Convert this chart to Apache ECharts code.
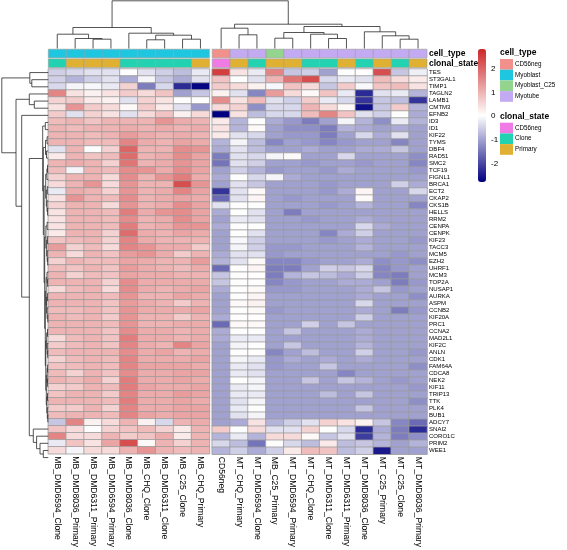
<!DOCTYPE html>
<html><head><meta charset="utf-8">
<script src="https://cdn.jsdelivr.net/npm/echarts@6/dist/echarts.min.js"></script>
<style>html,body{margin:0;padding:0;background:#fff}#c{width:567px;height:550px}</style>
</head><body><div id="c"></div>
<script>
// ---------------- DATA ----------------
const colNames = ['MB_DMD6594_Clone','MB_DMD8036_Primary','MB_DMD6311_Primary','MB_DMD6594_Primary','MB_DMD8036_Clone','MB_CHQ_Clone','MB_DMD6311_Clone','MB_C25_Clone','MB_CHQ_Primary',
  'CD56neg','MT_CHQ_Primary','MT_DMD6594_Clone','MB_C25_Primary','MT_DMD6594_Primary','MT_CHQ_Clone','MT_DMD6311_Clone','MT_DMD6311_Primary','MT_DMD8036_Clone','MT_C25_Primary','MT_C25_Clone','MT_DMD8036_Primary'];
const rowNames = ['TES','ST3GAL1','TIMP1','TAGLN2','LAMB1','CMTM3','EFNB2','ID3','ID1','KIF22','TYMS','DBF4','RAD51','SMC2','TCF19','FIGNL1','BRCA1','ECT2','CKAP2','CKS1B','HELLS','RRM2','CENPA','CENPK','KIF23','TACC3','MCM5','EZH2','UHRF1','MCM3','TOP2A','NUSAP1','AURKA','ASPM','CCNB2','KIF20A','PRC1','CCNA2','MAD2L1','KIF2C','ANLN','CDK1','FAM64A','CDCA8','NEK2','KIF11','TRIP13','TTK','PLK4','BUB1','ADCY7','SNAI2','CORO1C','PRIM2','WEE1'];
const cellType = ['Myoblast','Myoblast','Myoblast','Myoblast','Myoblast','Myoblast','Myoblast','Myoblast','Myoblast',
  'CD56neg','Myotube','Myotube','Myoblast_C25','Myotube','Myotube','Myotube','Myotube','Myotube','Myotube','Myotube','Myotube'];
const clonalState = ['Clone','Primary','Primary','Primary','Clone','Clone','Clone','Clone','Primary',
  'CD56neg','Primary','Clone','Primary','Primary','Clone','Clone','Primary','Clone','Primary','Clone','Primary'];
const cellTypeLevels = ['CD56neg','Myoblast','Myoblast_C25','Myotube'];
const clonalLevels = ['CD56neg','Clone','Primary'];
const scaleTicks = [2,1,0,-1,-2];
const scaleRange = [-2.77, 2.82];
// scaled expression, left cluster (first 9 columns)
const leftValues = [
 [-0.5,-0.4,-0.3,-0.3,0.0,-0.3,-0.5,-0.7,-0.2],
 [-0.5,-0.8,-0.5,-0.3,-0.9,-0.1,-0.6,-0.9,-0.3],
 [-0.4,-0.1,-0.05,-0.2,0.6,-1.4,-0.4,-2.3,-2.7],
 [1.6,0.4,0.2,0.4,0.7,0.5,0.8,-1.0,-0.6],
 [0.6,0.7,0.3,0.2,-0.3,0.6,0.4,0.0,0.0],
 [0.4,1.4,0.7,0.5,0.1,0.7,0.3,-0.3,-1.1],
 [0.7,-0.3,0.6,0.4,-0.3,0.5,0.8,0.2,0.5],
 [0.9,1.0,0.8,1.0,1.0,1.0,1.4,1.1,1.0],
 [1.0,0.9,1.0,1.0,1.1,1.0,1.1,1.0,1.1],
 [1.0,1.0,0.9,1.0,1.3,1.1,1.0,1.1,1.0],
 [1.0,1.0,0.9,0.9,1.6,1.1,1.0,1.2,1.1],
 [-0.3,1.0,0.0,0.6,2.0,1.0,1.0,1.5,1.4],
 [0.3,1.0,0.8,0.9,1.9,1.0,1.1,1.5,1.2],
 [1.0,1.1,1.0,0.6,1.8,1.0,1.1,1.4,1.2],
 [0.9,-0.1,1.0,0.9,1.5,1.4,1.1,1.5,1.2],
 [0.6,1.0,1.0,0.5,1.5,1.0,1.4,1.7,1.1],
 [0.5,1.0,1.4,0.5,1.4,1.0,1.0,2.3,1.4],
 [-0.2,1.1,1.0,0.6,1.4,1.0,1.1,1.6,1.2],
 [0.4,1.4,1.0,0.9,1.5,1.0,1.1,1.2,1.1],
 [0.6,1.0,1.0,0.5,1.4,1.0,1.1,1.5,1.2],
 [0.4,1.0,1.0,0.9,1.7,1.1,1.4,1.5,1.2],
 [0.4,1.0,1.0,0.9,1.5,1.0,1.1,1.5,1.2],
 [0.4,1.0,1.0,0.9,1.7,1.0,1.1,1.4,1.4],
 [0.3,1.0,1.0,0.6,1.9,1.1,1.0,1.2,1.1],
 [0.8,0.9,1.0,0.6,1.6,1.1,1.0,1.0,1.0],
 [1.3,0.6,0.9,0.5,1.6,1.4,1.1,1.1,0.7],
 [1.0,0.5,1.0,0.8,1.3,1.4,1.1,0.7,1.0],
 [0.6,1.0,0.9,0.9,1.2,1.1,1.0,1.0,1.3],
 [0.9,0.8,1.0,0.8,1.3,1.1,1.0,0.9,1.1],
 [1.0,0.6,0.9,0.8,1.2,1.1,1.1,1.0,1.0],
 [1.0,1.0,1.0,0.6,1.5,1.1,1.1,1.1,1.1],
 [0.5,0.9,1.0,0.5,1.5,1.1,1.0,1.1,1.2],
 [1.0,1.0,1.0,0.9,1.4,1.0,1.0,1.2,1.1],
 [1.0,1.0,1.0,0.8,1.3,1.1,1.0,0.7,1.0],
 [0.9,0.9,1.0,0.8,1.4,1.1,1.1,1.1,1.2],
 [1.0,0.9,1.0,0.7,1.4,1.0,1.0,0.7,1.0],
 [1.0,1.0,1.0,0.9,1.4,1.0,1.0,1.1,1.1],
 [1.0,1.0,1.0,0.8,1.5,1.1,1.1,1.0,1.1],
 [0.5,0.9,1.0,0.8,1.7,1.1,1.1,1.0,1.1],
 [0.7,0.9,1.0,0.8,1.6,1.1,1.0,1.6,1.2],
 [0.9,1.0,1.0,1.0,1.5,1.1,1.2,1.0,1.1],
 [0.6,0.9,1.0,0.9,1.6,1.1,1.1,1.1,1.2],
 [0.8,0.9,1.0,0.9,1.6,1.2,1.2,1.2,1.1],
 [0.9,0.6,1.0,0.8,1.5,1.1,1.1,1.2,1.2],
 [1.0,0.9,1.1,0.6,1.7,1.1,1.1,1.2,1.1],
 [0.6,0.7,1.0,0.9,1.7,1.2,1.1,1.1,1.2],
 [0.8,1.0,1.0,0.7,1.6,1.1,1.1,1.3,1.2],
 [1.0,1.0,1.0,0.9,1.7,1.1,1.1,1.2,1.1],
 [0.7,0.7,1.0,0.6,1.6,1.1,1.1,1.2,1.2],
 [0.9,1.0,1.0,0.9,1.6,1.2,1.1,1.2,1.2],
 [-0.6,1.6,0.2,0.5,1.0,0.2,-0.4,1.0,1.1],
 [0.8,0.5,0.0,0.6,0.8,0.9,0.6,0.3,1.0],
 [1.6,0.5,0.5,1.0,0.7,0.8,1.1,0.3,1.0],
 [-0.2,0.8,0.4,1.2,2.3,0.1,1.0,0.6,1.0],
 [0.5,-0.1,0.5,0.5,1.0,1.4,1.0,0.9,1.0]
];
// scaled expression, right cluster (last 12 columns)
const rightValues = [
 [2.5,0.4,-0.2,1.6,-0.6,-0.5,-1.0,0.0,0.05,2.3,-0.6,-0.15],
 [0.8,0.0,-0.3,1.0,1.8,2.3,-0.4,-0.2,-0.3,0.9,0.5,0.3],
 [0.7,0.5,0.2,-0.05,0.8,0.5,-0.6,0.7,-0.05,0.8,0.9,0.4],
 [0.2,-0.3,-1.3,1.3,0.5,0.1,0.8,-0.2,-2.3,-0.3,-0.2,-0.8],
 [1.5,0.4,0.9,-0.3,-0.5,0.7,-0.2,-0.4,-2.2,-0.6,-0.7,-2.2],
 [0.5,0.6,-1.2,-0.4,-0.4,1.0,0.5,0.1,-2.6,-0.6,0.7,-0.8],
 [-2.77,0.4,-0.7,-0.4,-0.4,0.9,1.6,0.8,-0.3,-0.5,0.0,-0.9],
 [0.3,-0.8,0.0,-0.9,-1.1,-1.4,-1.0,-0.1,-0.8,-1.2,-0.2,-0.8],
 [0.4,-0.8,0.1,-1.0,-1.2,-1.2,-1.4,-0.8,-0.9,-1.0,-0.9,-1.0],
 [0.3,-0.3,-0.4,-1.0,-1.1,-1.1,-1.4,-1.0,-0.4,-0.9,-0.3,-1.0],
 [-0.8,-0.1,-0.7,-1.3,-1.0,-1.1,-1.3,-1.1,-1.0,-1.0,-1.3,-1.0],
 [-0.9,-0.3,-0.7,-1.0,-1.0,-0.9,-1.0,-1.0,-0.9,-0.9,-0.6,-1.0],
 [-1.4,-0.3,-0.4,-0.1,0.1,-1.0,-1.0,-0.4,-1.0,-1.0,-1.0,-1.2],
 [-1.5,-0.3,-0.5,-1.0,-1.0,-1.1,-1.0,-1.0,-1.1,-1.0,-1.0,-1.3],
 [-1.0,-0.5,-0.8,-1.1,-1.0,-1.0,-1.1,-0.9,-1.0,-1.0,-1.0,-1.1],
 [-0.9,0.0,-0.4,-0.1,-0.9,-1.0,-1.0,-1.0,-1.0,-1.0,-1.0,-1.0],
 [-1.0,-0.3,-0.6,-1.0,-1.0,-1.0,-1.1,-1.0,-1.0,-1.0,-0.5,-0.9],
 [-2.2,-0.3,0.1,-1.0,-1.0,-1.0,-1.1,-0.9,0.15,-1.0,-1.0,-0.4],
 [-1.6,-0.3,0.15,-1.0,-1.1,-1.0,-1.0,-1.0,0.1,-1.0,-1.0,-1.0],
 [-0.3,0.0,0.0,-1.0,-1.0,-1.0,-1.1,-1.0,-0.8,-1.0,-1.0,-1.3],
 [-0.9,0.0,-0.3,-1.0,-1.4,-1.0,-1.0,-1.0,-1.0,-1.0,-1.0,-1.0],
 [-1.0,-0.2,-0.3,-1.0,-1.0,-1.1,-1.0,-1.0,-0.9,-1.0,-1.0,-1.0],
 [-0.9,0.0,0.0,-1.0,-1.0,-1.0,-1.0,-1.0,-0.4,-0.9,-1.0,-1.0],
 [-1.0,0.0,-0.3,-1.0,-1.0,-1.0,-1.3,-0.9,-0.5,-1.0,-1.0,-1.0],
 [-1.0,-0.05,-0.5,-1.0,-1.0,-1.0,-1.1,-1.0,-0.9,-1.0,-1.0,-1.1],
 [-1.0,-0.1,-0.5,-1.1,-1.1,-1.0,-1.0,-1.0,-0.8,-1.0,-1.0,-1.0],
 [-0.9,-0.3,-0.3,-1.1,-1.0,-1.0,-1.0,-1.0,-1.0,-1.0,-1.1,-1.0],
 [-0.8,-0.3,0.1,-1.3,-1.3,-1.1,-1.0,-1.0,-0.9,-1.2,-1.1,-1.2],
 [-1.6,0.0,0.15,-1.4,-1.4,-1.0,-0.5,-0.6,-0.4,-1.3,-1.1,-1.0],
 [-0.6,0.0,0.05,-1.4,-0.8,-0.6,-0.7,-0.9,-0.5,-1.3,-1.4,-1.0],
 [-0.6,0.0,0.0,-1.3,-1.1,-1.0,-1.0,-0.9,-0.9,-1.0,-1.4,-1.1],
 [-0.9,0.0,0.1,-1.1,-1.1,-1.0,-1.0,-1.0,-0.9,-0.6,-1.1,-1.0],
 [-1.0,0.0,0.15,-1.0,-1.0,-1.0,-1.0,-1.0,-0.9,-1.0,-1.0,-1.2],
 [-1.0,0.1,0.2,-1.0,-1.0,-1.0,-1.0,-1.0,-0.4,-1.0,-1.0,-1.0],
 [-1.0,0.0,0.1,-1.1,-1.0,-1.0,-1.0,-1.0,-0.9,-1.0,-1.4,-1.1],
 [-0.9,0.0,0.05,-1.0,-1.0,-1.0,-1.0,-1.0,-0.5,-1.0,-1.0,-1.0],
 [-1.6,0.1,0.1,-1.0,-1.0,-0.5,-1.0,-0.6,-1.0,-1.0,-1.0,-1.0],
 [-0.9,0.0,0.0,-1.0,-0.6,-1.0,-1.0,-1.0,-0.9,-1.0,-1.0,-1.0],
 [-0.9,-0.2,-0.2,-1.0,-1.0,-1.0,-1.0,-1.0,-0.9,-1.0,-1.0,-1.0],
 [-1.0,-0.1,0.0,-1.0,-0.6,-1.0,-1.0,-1.0,-0.8,-1.0,-1.0,-1.0],
 [-1.0,0.0,0.05,-1.3,-1.0,-0.7,-1.0,-1.0,-0.5,-1.0,-1.0,-1.1],
 [-1.0,-0.1,-0.2,-1.1,-0.9,-1.0,-0.9,-1.0,-0.9,-1.0,-1.0,-1.0],
 [-1.0,-0.2,-0.3,-1.1,-1.0,-1.0,-0.6,-1.0,-1.0,-1.0,-1.0,-1.2],
 [-1.0,-0.2,-0.3,-1.0,-1.0,-1.0,-1.0,-1.3,-1.0,-1.0,-1.0,-1.0],
 [-1.0,0.0,-0.1,-1.0,-1.0,-0.6,-1.0,-0.6,-0.8,-1.0,-1.1,-1.0],
 [-1.0,-0.2,-0.1,-1.0,-1.0,-1.0,-1.0,-1.0,-1.0,-1.0,-1.0,-1.1],
 [-1.0,-0.2,-0.2,-1.0,-1.0,-1.0,-0.7,-1.0,-0.6,-1.0,-1.0,-1.0],
 [-1.0,-0.3,-0.1,-1.0,-1.0,-1.0,-1.0,-1.0,-1.0,-1.0,-1.0,-1.2],
 [-1.0,-0.2,0.0,-1.0,-1.0,-1.0,-1.0,-1.0,-0.6,-1.0,-1.0,-1.0],
 [-1.0,-0.3,-0.1,-1.0,-1.0,-1.0,-1.0,-1.0,-1.0,-1.0,-1.0,-1.0],
 [-1.0,-0.9,0.4,-0.8,-0.5,-0.3,0.6,0.4,0.2,-0.6,-1.3,-1.6],
 [0.7,0.0,0.5,-0.3,-0.3,0.6,0.0,-0.4,-2.3,-0.9,-1.4,-2.3],
 [-0.8,-0.2,-0.8,0.5,0.5,0.1,-0.6,-0.3,-2.1,-0.8,-1.4,-1.2],
 [-0.4,-0.7,-1.5,0.0,-0.4,-0.7,0.3,-0.7,-0.6,-0.8,-1.0,-0.8],
 [-0.8,-0.5,-0.9,-0.5,0.3,0.9,0.8,-0.7,-0.5,-2.5,-1.0,-1.0]
];
// column clustering: [mergeHeight, left, right]; leaves are column indices
const colTree = [47.7,
  [21, [14.3, 0, [10, 1, [9.3, 2, 3]]], [15.3, 4, [13.3, [8.7, 5, 6], [9.3, 7, 8]]]],
  [24.3, [20.3, 9, [13.7, 10, 11]],
         [22, [16, [10.3, 12, 13], [14.3, 14, [10, 15, 16]]], [16.7, 17, [12.7, 18, [9.3, 19, 20]]]]]];
// row clustering: [mergeHeight, top, bottom]; leaves are row indices
const rowTree = [46.5,
  [18.5, 0, [16.5, 1, 2]],
  [32.3,
    [19, 3, [14, 4, 5]],
    [26.6, 6,
      [19,
        [5.6, [3, 7, 8],
          [5.0,
            [2.8, [1.2, 9, 10], [1.8, 11, 12]],
            [4.2,
              [2.6, [1.4, [0.8, 13, 14], 15], [2.0, [1.0, 16, 17], [1.3, 18, [0.7, 19, 20]]]],
              [3.6,
                [2.4, [1.2, 21, 22], [1.6, [0.9, 23, 24], [1.1, 25, [0.6, 26, 27]]]],
                [3.0,
                  [2.2, [1.3, 28, [0.7, 29, 30]], [1.7, [0.9, 31, 32], [1.2, 33, [0.5, 34, 35]]]],
                  [2.5, [1.6, [0.8, 36, 37], [1.1, 38, [0.6, 39, 40]]],
                        [2.0, [1.2, [0.7, 41, 42], [0.9, 43, 44]], [1.5, [0.8, 45, 46], [1.0, 47, [0.5, 48, 49]]]]]]]]]],
        [15, 50, [11.7, 51, [8.3, 52, [5, 53, 54]]]]]]]];

// ---------------- STYLE / LAYOUT ----------------
function fontAvailable(name){
  const ctx = document.createElement('canvas').getContext('2d');
  const s = 'ST3GAL1 Myoblast_C25 clonal_state';
  ctx.font = '20px serif'; const a = ctx.measureText(s).width;
  ctx.font = '20px "' + name + '", serif'; const b = ctx.measureText(s).width;
  return Math.abs(a - b) > 0.5;
}
const narrowOK = fontAvailable('Liberation Sans Narrow');
const NARROW = narrowOK ? '"Liberation Sans Narrow", "Liberation Sans", sans-serif' : '"Liberation Sans", Arial, sans-serif';
const nf = narrowOK ? 1 : 0.84;
const REG = '"Liberation Sans", Arial, sans-serif';

const cellTypeColors = {CD56neg:'#F2918B', Myoblast:'#1EC6E0', Myoblast_C25:'#93D48E', Myotube:'#C4AAF2'};
const clonalColors = {CD56neg:'#F07BE4', Clone:'#22D2B0', Primary:'#E0B032'};

const L0 = 48.3, CW = 17.9, GAP = 2.8, HT = 69, RH = 7.13;
const nL = leftValues[0].length, nR = rightValues[0].length, nRows = rowNames.length;
const leftW = nL * CW, rightX = L0 + leftW + GAP, rightW = nR * CW;
const annTop = 48.7, annH = 19.3;
const border = '#9c9c9c';

// heatmap data
const heatL = [], heatR = [];
leftValues.forEach((row, r) => row.forEach((v, c) => heatL.push([c, r, v])));
rightValues.forEach((row, r) => row.forEach((v, c) => heatR.push([c, r, v])));

// dendrogram segments
function dendro(tree, posOf) {
  const segs = [];
  (function walk(n) {
    if (typeof n === 'number') return [posOf(n), 0];
    const A = walk(n[1]), B = walk(n[2]);
    segs.push([A, B, n[0]]);
    return [(A[0] + B[0]) / 2, n[0]];
  })(tree);
  return segs;
}
const gapU = GAP / CW;
const colSegs = dendro(colTree, c => c < nL ? c + 0.5 : c + 0.5 + gapU)
  .map(([A, B, h]) => ({coords: [[A[0], A[1]], [A[0], h], [B[0], h], [B[0], B[1]]]}));
const rowSegs = dendro(rowTree, r => r + 0.5)
  .map(([A, B, h]) => ({coords: [[A[1], A[0]], [h, A[0]], [h, B[0]], [B[1], B[0]]]}));

function annoRender(params, api) {
  const c = api.coord([api.value(0), api.value(1)]);
  const s = api.size([1, 1]);
  return {type: 'rect',
    shape: {x: c[0] - s[0] / 2, y: c[1] - s[1] / 2 + 0.5, width: s[0], height: s[1] - 1},
    style: {fill: api.visual('color'), stroke: border, lineWidth: 0.6}};
}
const annoSeries = [];
function addAnno(prefix, arr, levels, colors, rowIdx) {
  levels.forEach(lv => {
    [[0, nL, 2], [nL, nL + nR, 3]].forEach(([s, e, gi]) => {
      const d = [];
      for (let c = s; c < e; c++) if (arr[c] === lv) d.push([c - s, rowIdx]);
      if (!d.length) return;
      annoSeries.push({type: 'custom', name: prefix + '|' + lv, xAxisIndex: gi, yAxisIndex: gi,
        data: d, encode: {x: 0, y: 1}, itemStyle: {color: colors[lv]}, renderItem: annoRender, silent: true});
    });
  });
}
addAnno('cell_type', cellType, cellTypeLevels, cellTypeColors, 0);
addAnno('clonal_state', clonalState, clonalLevels, clonalColors, 1);

const hidden = {show: false};
const noLine = {axisLine: hidden, axisTick: hidden, splitLine: hidden};

const option = {
  animation: false,
  backgroundColor: '#fff',
  textStyle: {fontFamily: REG},
  title: [
    {text: 'cell_type', left: 500, top: 48, padding: 0, textStyle: {fontSize: 8.5 * (narrowOK ? 1.1 : 1) , fontWeight: 'bold', fontFamily: NARROW, color: '#000'}},
    {text: 'clonal_state', left: 500, top: 112.5, padding: 0, textStyle: {fontSize: 8.5 * (narrowOK ? 1.1 : 1), fontWeight: 'bold', fontFamily: NARROW, color: '#000'}}
  ],
  legend: [
    {data: cellTypeLevels.map(l => 'cell_type|' + l), left: 500, top: 59, orient: 'vertical', icon: 'rect',
     itemWidth: 13, itemHeight: 10.7, itemGap: 0, padding: 0, selectedMode: false,
     formatter: n => n.split('|')[1], textStyle: {fontSize: 7.5 * nf, fontFamily: NARROW, color: '#000', padding: [0, 0, 0, -3]}},
    {data: clonalLevels.map(l => 'clonal_state|' + l), left: 500, top: 122.7, orient: 'vertical', icon: 'rect',
     itemWidth: 13, itemHeight: 10.7, itemGap: 0, padding: 0, selectedMode: false,
     formatter: n => n.split('|')[1], textStyle: {fontSize: 7.5 * nf, fontFamily: NARROW, color: '#000', padding: [0, 0, 0, -3]}}
  ],
  visualMap: {
    type: 'continuous', min: scaleRange[0], max: scaleRange[1], seriesIndex: [0, 1], dimension: 2,
    inRange: {color: ['#000080', '#ffffff', '#CD2626']},
    left: 478, top: 49, itemWidth: 8, itemHeight: 133, padding: 0, calculable: false, hoverLink: false
  },
  grid: [
    {left: L0, top: HT, width: leftW, height: nRows * RH},
    {left: rightX, top: HT, width: rightW, height: nRows * RH},
    {left: L0, top: annTop, width: leftW, height: annH},
    {left: rightX, top: annTop, width: rightW, height: annH},
    {left: L0, top: 0, width: rightX + rightW - L0, height: 48.5},
    {left: 0, top: HT, width: L0, height: nRows * RH},
    {left: 478, top: 49, width: 8, height: 133}
  ],
  xAxis: [
    {type: 'category', gridIndex: 0, data: colNames.slice(0, nL), position: 'bottom', ...noLine,
     axisLabel: {rotate: -90, interval: 0, fontSize: 8.6, margin: 2.5, color: '#000', fontFamily: REG}},
    {type: 'category', gridIndex: 1, data: colNames.slice(nL), position: 'bottom', ...noLine,
     axisLabel: {rotate: -90, interval: 0, fontSize: 8.6, margin: 2.5, color: '#000', fontFamily: REG}},
    {type: 'category', gridIndex: 2, data: colNames.slice(0, nL), show: false},
    {type: 'category', gridIndex: 3, data: colNames.slice(nL), show: false},
    {type: 'value', gridIndex: 4, min: 0, max: nL + nR + gapU, show: false},
    {type: 'value', gridIndex: 5, min: 0, max: L0, inverse: true, show: false},
    {type: 'value', gridIndex: 6, min: 0, max: 1, show: false}
  ],
  yAxis: [
    {type: 'category', gridIndex: 0, data: rowNames, inverse: true, show: false},
    {type: 'category', gridIndex: 1, data: rowNames, inverse: true, position: 'right', ...noLine,
     axisLabel: {interval: 0, fontSize: 7.2 * nf, margin: 2, color: '#000', fontFamily: NARROW}},
    {type: 'category', gridIndex: 2, data: ['cell_type', 'clonal_state'], inverse: true, show: false},
    {type: 'category', gridIndex: 3, data: ['cell_type', 'clonal_state'], inverse: true, position: 'right', ...noLine,
     axisLabel: {interval: 0, fontSize: 8.5 * (narrowOK ? 1.1 : 1), fontWeight: 'bold', margin: 2, color: '#000', fontFamily: NARROW}},
    {type: 'value', gridIndex: 4, min: 0, max: 48.5, show: false},
    {type: 'value', gridIndex: 5, min: 0, max: nRows, inverse: true, show: false},
    {type: 'value', gridIndex: 6, min: scaleRange[0], max: scaleRange[1], position: 'right', ...noLine,
     axisLabel: {customValues: scaleTicks, fontSize: 8, margin: 5, color: '#000', fontFamily: REG}}
  ],
  series: [
    {type: 'heatmap', xAxisIndex: 0, yAxisIndex: 0, data: heatL, silent: true, progressive: 0,
     itemStyle: {borderColor: border, borderWidth: 0.8}, emphasis: {disabled: true}},
    {type: 'heatmap', xAxisIndex: 1, yAxisIndex: 1, data: heatR, silent: true, progressive: 0,
     itemStyle: {borderColor: border, borderWidth: 0.8}, emphasis: {disabled: true}},
    ...annoSeries,
    {type: 'lines', coordinateSystem: 'cartesian2d', xAxisIndex: 4, yAxisIndex: 4, polyline: true,
     data: colSegs, silent: true, lineStyle: {color: '#2a2a2a', width: 0.8, opacity: 1}},
    {type: 'lines', coordinateSystem: 'cartesian2d', xAxisIndex: 5, yAxisIndex: 5, polyline: true,
     data: rowSegs, silent: true, lineStyle: {color: '#2a2a2a', width: 0.8, opacity: 1}}
  ]
};
const chart = echarts.init(document.getElementById('c'), null, {renderer: 'canvas'});
chart.setOption(option);
</script>
</body></html>
